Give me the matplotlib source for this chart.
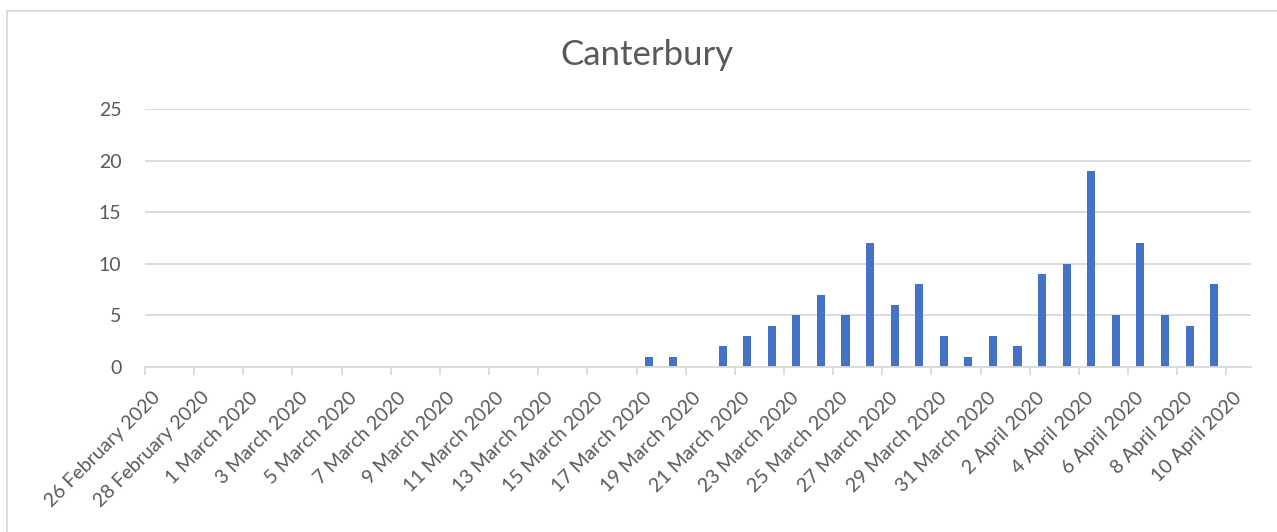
import matplotlib
matplotlib.use("Agg")
import matplotlib.pyplot as plt
import pandas as pd
from matplotlib.patches import Rectangle

# daily counts, 26 Feb 2020 .. 10 Apr 2020
dates = pd.date_range("2020-02-26", "2020-04-10", freq="D")
counts = [0, 0, 0, 0, 0, 0, 0, 0, 0, 0,
          0, 0, 0, 0, 0, 0, 0, 0, 0, 0,
          1, 1, 0, 2, 3, 4, 5, 7, 5, 12,
          6, 8, 3, 1, 3, 2, 9, 10, 19, 5,
          12, 5, 4, 8, 0]
labels = [f"{d.day} {d.strftime('%B %Y')}" for d in dates]
y_ticks = [0, 5, 10, 15, 20, 25]

text_col = "#595959"
grid_col = "#D9D9D9"
bar_col = "#4472C4"

plt.rcParams["font.family"] = ["Lato", "DejaVu Sans"]

fig = plt.figure(figsize=(12.77, 5.32), dpi=100)
ax = fig.add_axes([145 / 1277, 1 - 367 / 532, (1251 - 145) / 1277, (367 - 109) / 532])

x = list(range(len(dates)))
ax.bar(x, counts, width=0.33, color=bar_col, zorder=3)

ax.set_xlim(-0.5, len(dates) - 0.5)
ax.set_ylim(0, 25)
ax.set_yticks(y_ticks)
ax.yaxis.grid(True, color=grid_col, lw=1.3, zorder=0)

ax.set_xticks(x[::2])
ax.set_xticklabels(labels[::2], rotation=45, ha="right", va="center",
                   rotation_mode="anchor")
ax.set_xticks([i - 0.5 for i in x[::2]], minor=True)
ax.tick_params(axis="x", which="major", length=0, pad=20, labelsize=14, labelcolor=text_col)
ax.tick_params(axis="x", which="minor", length=6, width=1.3, color=grid_col)
ax.tick_params(axis="y", length=0, pad=17, labelsize=14, labelcolor=text_col)

for side in ["top", "right", "left"]:
    ax.spines[side].set_visible(False)
ax.spines["bottom"].set_color(grid_col)
ax.spines["bottom"].set_linewidth(1.3)
ax.spines["bottom"].set_zorder(4)

fig.text(647 / 1277, 1 - 55 / 532, "Canterbury", ha="center", va="center",
         fontsize=25, color=text_col)

# chart border (cropped on right/bottom)
fig.patches.append(Rectangle((7 / 1277, -0.1), 1.2, 1 - 11 / 532 + 0.1,
                             transform=fig.transFigure, fill=False,
                             edgecolor=grid_col, lw=1.3))

fig.savefig("out.png", dpi=100)
